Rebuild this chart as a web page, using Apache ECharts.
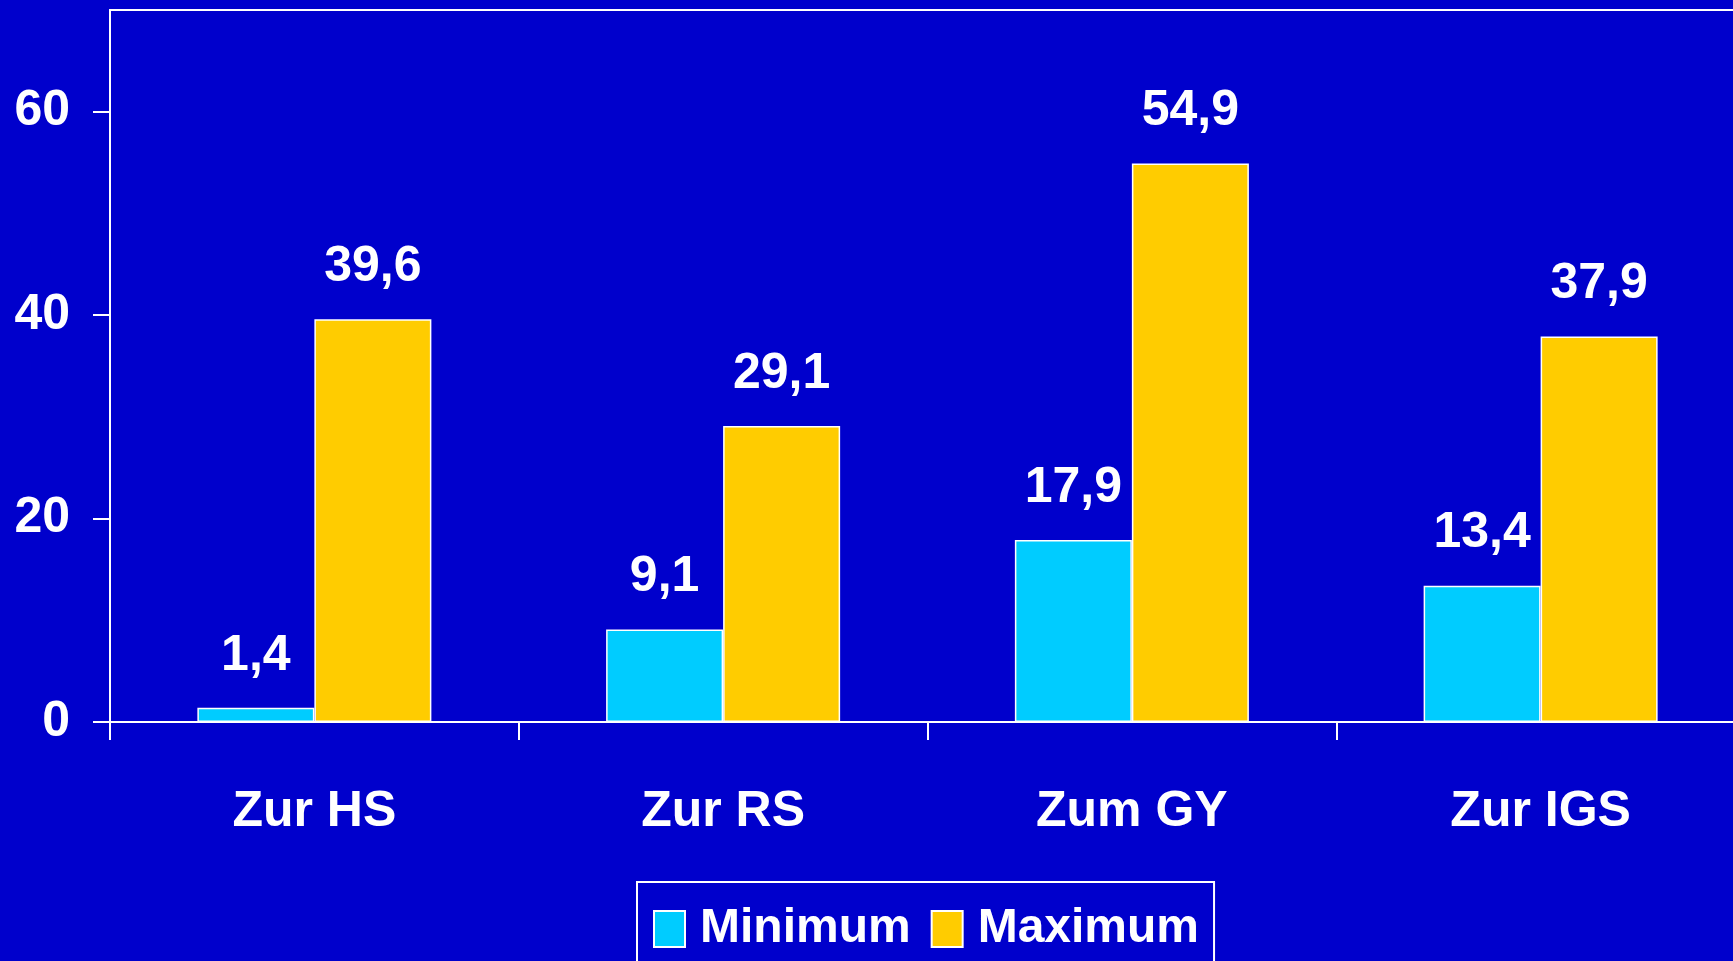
<!DOCTYPE html>
<html>
<head>
<meta charset="utf-8">
<script src="https://cdn.jsdelivr.net/npm/echarts@6/dist/echarts.min.js"></script>
<style>
html,body{margin:0;padding:0;background:#0000CC;}
#chart{width:1733px;height:961px;}
</style>
</head>
<body>
<div id="chart"></div>
<script>
var categories = ['Zur HS', 'Zur RS', 'Zum GY', 'Zur IGS'];
var minimumValues = [1.4, 9.1, 17.9, 13.4];
var maximumValues = [39.6, 29.1, 54.9, 37.9];
var yTicks = [0, 20, 40, 60];
var seriesNames = ['Minimum', 'Maximum'];

var FONT = '"Liberation Sans Narrow", "Arial Narrow", "Liberation Sans", Arial, sans-serif';
var chart = echarts.init(document.getElementById('chart'));
function fmt(p){ return String(p.value).replace('.', ','); }
var labelStyle = {
  show: true, position: 'top', distance: 27, color: '#fff',
  fontFamily: FONT, fontWeight: 'bold', fontSize: 50, formatter: fmt
};
chart.setOption({
  backgroundColor: '#0000CC',
  animation: false,
  grid: {
    left: 110, top: 10, right: -12, bottom: 239,
    outerBoundsMode: 'none',
    containLabel: false,
    show: true, borderColor: '#fff', borderWidth: 2, backgroundColor: 'transparent'
  },
  legend: {
    data: seriesNames,
    left: 637, top: 882,
    orient: 'horizontal',
    padding: [23, 15, 16, 16],
    borderColor: '#fff', borderWidth: 2,
    itemWidth: 31, itemHeight: 36, itemGap: 20,
    selectedMode: false,
    icon: 'rect',
    textStyle: { color: '#fff', fontFamily: FONT, fontWeight: 'bold', fontSize: 48, padding: [0, 0, 0, 10] }
  },
  xAxis: {
    type: 'category',
    data: categories,
    axisLine: { lineStyle: { color: '#fff', width: 2 } },
    axisTick: { show: true, length: 18, lineStyle: { color: '#fff', width: 2 } },
    axisLabel: { color: '#fff', fontFamily: FONT, fontWeight: 'bold', fontSize: 50, margin: 65 },
    splitLine: { show: false }
  },
  yAxis: {
    type: 'value',
    min: 0, max: 70, interval: 20,
    axisLine: { show: true, lineStyle: { color: '#fff', width: 2 } },
    axisTick: { show: true, length: 17, lineStyle: { color: '#fff', width: 2 }, customValues: yTicks },
    axisLabel: { color: '#fff', fontFamily: FONT, fontWeight: 'bold', fontSize: 50, margin: 40, customValues: yTicks },
    splitLine: { show: false }
  },
  series: [
    {
      name: seriesNames[0], type: 'bar', data: minimumValues,
      barWidth: 117, barGap: '0%',
      itemStyle: { color: '#00CCFF', borderColor: '#fff', borderWidth: 1.5 },
      label: labelStyle
    },
    {
      name: seriesNames[1], type: 'bar', data: maximumValues,
      barWidth: 117, barGap: '0%',
      itemStyle: { color: '#FFCC00', borderColor: '#fff', borderWidth: 1.5 },
      label: labelStyle
    }
  ]
});
</script>
</body>
</html>
